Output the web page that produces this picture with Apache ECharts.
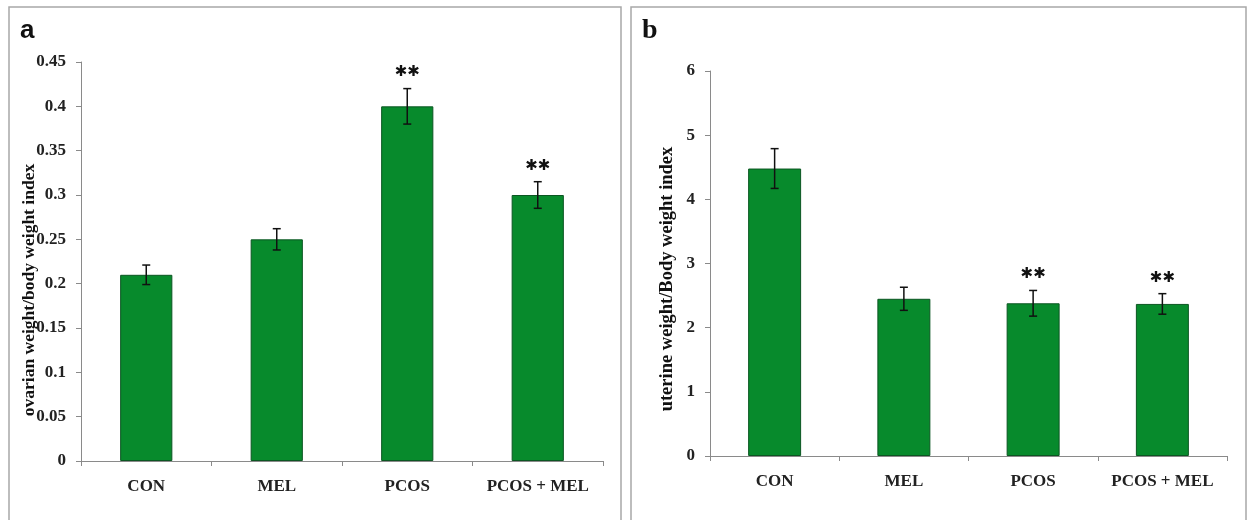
<!DOCTYPE html>
<html>
<head>
<meta charset="utf-8">
<script src="https://cdn.jsdelivr.net/npm/echarts@6/dist/echarts.min.js"></script>
<style>html,body{margin:0;padding:0;background:#fff}#c{width:1250px;height:520px}</style>
</head>
<body>
<div id="c"></div>
<script>
var categories = ['CON', 'MEL', 'PCOS', 'PCOS + MEL'];
var ovarianMean = [0.21, 0.25, 0.40, 0.30];
var ovarianErr = [0.011, 0.012, 0.020, 0.015];
var ovarianSig = ['', '', '**', '**'];
var uterineMean = [4.48, 2.45, 2.38, 2.37];
var uterineErr = [0.31, 0.18, 0.20, 0.16];
var uterineSig = ['', '', '**', '**'];
var ovarianTicks = { min: 0, max: 0.45, interval: 0.05 };
var uterineTicks = { min: 0, max: 6, interval: 1 };

var chart = echarts.init(document.getElementById('c'), null, { renderer: 'canvas' });
var SERIF = '"Liberation Serif", "DejaVu Serif", serif';
var axisGray = '#8a8a8a';

function errData(mean, err, sig) {
  return mean.map(function (m, i) { return [i, m - err[i], m + err[i], sig[i]]; });
}
function renderErr(params, api) {
  var x = api.value(0);
  var lo = api.coord([x, api.value(1)]);
  var hi = api.coord([x, api.value(2)]);
  var cap = 4;
  var st = { stroke: '#111', lineWidth: 1.5 };
  var children = [
    { type: 'line', shape: { x1: hi[0], y1: hi[1], x2: lo[0], y2: lo[1] }, style: st },
    { type: 'line', shape: { x1: hi[0] - cap, y1: hi[1], x2: hi[0] + cap, y2: hi[1] }, style: st },
    { type: 'line', shape: { x1: lo[0] - cap, y1: lo[1], x2: lo[0] + cap, y2: lo[1] }, style: st }
  ];
  var s = api.value(3);
  if (s) {
    children.push({ type: 'text', x: hi[0], y: hi[1] - 16,
      style: { text: '\u2731\u2731', fill: '#111', font: 'bold 15px "DejaVu Sans"', align: 'center', verticalAlign: 'middle' } });
  }
  return { type: 'group', children: children };
}

function xAxis(idx) {
  return {
    type: 'category', gridIndex: idx, data: categories,
    axisLine: { lineStyle: { color: axisGray, width: 1 } },
    axisTick: { show: true, interval: 0, length: 5, lineStyle: { color: axisGray } },
    axisLabel: { interval: 0, color: '#222', fontFamily: SERIF, fontWeight: 'bold', fontSize: 17, margin: 17 }
  };
}
function yAxis(idx, t) {
  return {
    type: 'value', gridIndex: idx, min: t.min, max: t.max, interval: t.interval,
    splitLine: { show: false },
    axisLine: { show: true, lineStyle: { color: axisGray, width: 1 } },
    axisTick: { show: true, length: 5, lineStyle: { color: axisGray } },
    axisLabel: { color: '#222', fontFamily: SERIF, fontWeight: 'bold', fontSize: 17, margin: 15 }
  };
}
var barStyle = { color: '#078a2c', borderColor: '#0b5622', borderWidth: 1 };

chart.setOption({
  backgroundColor: '#fff',
  animation: false,
  grid: [
    { left: 81, right: 647, top: 62, bottom: 59 },
    { left: 710, right: 23, top: 71, bottom: 64 }
  ],
  xAxis: [xAxis(0), xAxis(1)],
  yAxis: [yAxis(0, ovarianTicks), yAxis(1, uterineTicks)],
  series: [
    { type: 'bar', xAxisIndex: 0, yAxisIndex: 0, data: ovarianMean, barWidth: '40%', itemStyle: barStyle, silent: true },
    { type: 'custom', xAxisIndex: 0, yAxisIndex: 0, data: errData(ovarianMean, ovarianErr, ovarianSig), renderItem: renderErr, z: 5 },
    { type: 'bar', xAxisIndex: 1, yAxisIndex: 1, data: uterineMean, barWidth: '41%', itemStyle: barStyle, silent: true },
    { type: 'custom', xAxisIndex: 1, yAxisIndex: 1, data: errData(uterineMean, uterineErr, uterineSig), renderItem: renderErr, z: 5 }
  ],
  graphic: [
    { type: 'rect', shape: { x: 9, y: 7, width: 612, height: 530 }, style: { fill: null, stroke: '#a8a8a8', lineWidth: 1.5 }, z: -1 },
    { type: 'rect', shape: { x: 631, y: 7, width: 615, height: 530 }, style: { fill: null, stroke: '#a8a8a8', lineWidth: 1.5 }, z: -1 },
    { type: 'text', x: 20, y: 31, style: { text: 'a', font: 'bold 26px "Liberation Sans", Arial, sans-serif', fill: '#111', verticalAlign: 'middle' } },
    { type: 'text', x: 642, y: 31, style: { text: 'b', font: 'bold 28px ' + SERIF, fill: '#111', verticalAlign: 'middle' } },
    { type: 'text', x: 29, y: 290, rotation: Math.PI / 2, style: { text: 'ovarian weight/body weight index', font: 'bold 17.5px ' + SERIF, fill: '#111', align: 'center', verticalAlign: 'middle' } },
    { type: 'text', x: 667, y: 279, rotation: Math.PI / 2, style: { text: 'uterine weight/Body weight index', font: 'bold 18.5px ' + SERIF, fill: '#111', align: 'center', verticalAlign: 'middle' } }
  ]
});
</script>
</body>
</html>
